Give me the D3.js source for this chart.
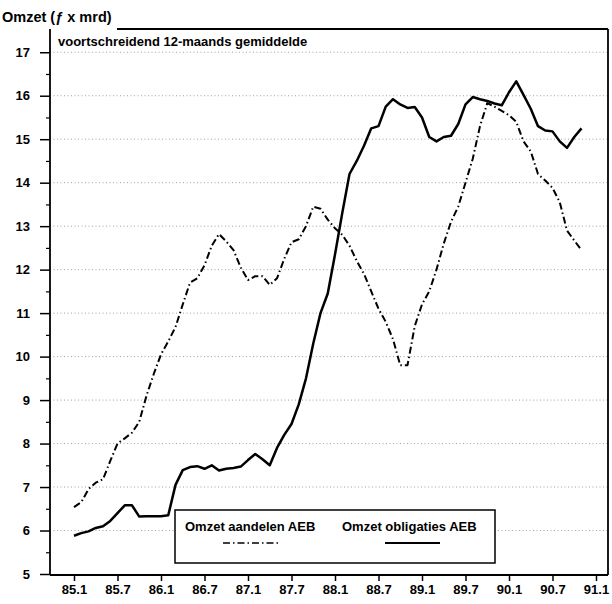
<!DOCTYPE html>
<html>
<head>
<meta charset="utf-8">
<script src="https://cdn.jsdelivr.net/npm/d3@7"></script>
<style>
  html, body { margin: 0; padding: 0; background: #fff; }
  svg { display: block; }
  text { font-family: "Liberation Sans", Arial, Helvetica, sans-serif; font-weight: bold; fill: #000; }
</style>
</head>
<body>
<svg id="chart" width="612" height="604"></svg>
<script>
// Month index 0 = januari 1985 (85.1)
const tickLabels = ["85.1","85.7","86.1","86.7","87.1","87.7","88.1","88.7","89.1","89.7","90.1","90.7","91.1"];
const yTicks = [5,6,7,8,9,10,11,12,13,14,15,16,17];

// Omzet aandelen AEB (f x mrd), voortschrijdend 12-maands gemiddelde, jan 1985 .. nov 1990
const aandelen = [
  6.54, 6.65, 6.95, 7.10, 7.18, 7.60, 8.00, 8.12, 8.25, 8.50,
  9.10, 9.60, 10.05, 10.35, 10.68, 11.20, 11.70, 11.80, 12.10, 12.55,
  12.82, 12.65, 12.45, 12.05, 11.76, 11.85, 11.85, 11.65, 11.80, 12.25,
  12.63, 12.70, 13.00, 13.45, 13.40, 13.15, 12.95, 12.80, 12.55, 12.20,
  11.90, 11.50, 11.10, 10.80, 10.40, 9.80, 9.80, 10.70, 11.20, 11.50,
  12.00, 12.60, 13.10, 13.45, 14.00, 14.55, 15.30, 15.83, 15.75, 15.65,
  15.55, 15.40, 14.95, 14.72, 14.20, 14.05, 13.88, 13.55, 12.90, 12.67,
  12.45
];
// Omzet obligaties AEB
const obligaties = [
  5.88, 5.94, 5.98, 6.06, 6.10, 6.22, 6.40, 6.58, 6.58, 6.32,
  6.33, 6.33, 6.33, 6.35, 7.05, 7.39, 7.46, 7.48, 7.42, 7.50,
  7.38, 7.42, 7.44, 7.47, 7.62, 7.76, 7.64, 7.50, 7.90, 8.20,
  8.45, 8.90, 9.50, 10.30, 11.00, 11.45, 12.35, 13.30, 14.20, 14.50,
  14.85, 15.25, 15.30, 15.75, 15.92, 15.80, 15.72, 15.74, 15.50, 15.05,
  14.95, 15.05, 15.08, 15.35, 15.80, 15.97, 15.92, 15.88, 15.82, 15.78,
  16.08, 16.33, 16.02, 15.70, 15.30, 15.20, 15.18, 14.95, 14.80, 15.05,
  15.25
];
const seriesNames = ["Omzet aandelen AEB", "Omzet obligaties AEB"];

const svg = d3.select("#chart");
const L = 50, R = 608, T = 29, B = 575;

const x = d3.scaleLinear().domain([0, 72]).range([74, 596]);
const y = d3.scaleLinear().domain([5, 17.5]).range([574, 30.5]);

// gridlines
svg.append("g").selectAll("line")
  .data(yTicks.filter(v => v > 5))
  .join("line")
  .attr("x1", L).attr("x2", R)
  .attr("y1", d => y(d)).attr("y2", d => y(d))
  .attr("stroke", "#8a8a8a").attr("stroke-width", 0.8)
  .attr("stroke-dasharray", "1,2.5");

// lines
const line = d3.line().x((d, i) => x(i)).y(d => y(d)).curve(d3.curveLinear);
svg.append("path").datum(aandelen)
  .attr("d", line).attr("fill", "none").attr("stroke", "#000")
  .attr("stroke-width", 2).attr("stroke-dasharray", "7,3,1.5,3")
  .attr("stroke-linejoin", "round");
svg.append("path").datum(obligaties)
  .attr("d", line).attr("fill", "none").attr("stroke", "#000")
  .attr("stroke-width", 2.5).attr("stroke-linejoin", "round");

// y axis
const yAxis = d3.axisLeft(y).tickValues(yTicks).tickSize(10).tickPadding(10).tickFormat(d3.format("d"));
const gy = svg.append("g").attr("transform", `translate(${L},0)`).call(yAxis);
gy.select(".domain").remove();
gy.selectAll("line").attr("stroke-width", 1.5);
gy.selectAll("text").style("font-size", "13px");
const yMinor = d3.axisLeft(y).tickValues(yTicks.slice(0, -1).map(v => v + 0.5)).tickSize(4).tickFormat("");
const gym = svg.append("g").attr("transform", `translate(${L},0)`).call(yMinor);
gym.select(".domain").remove();
gym.selectAll("line").attr("stroke-width", 1.2);

// x axis
const xAxis = d3.axisBottom(x).tickValues(d3.range(0, 73, 6)).tickSize(6).tickPadding(4)
  .tickFormat((d, i) => tickLabels[i]);
const gx = svg.append("g").attr("transform", `translate(0,${B})`).call(xAxis);
gx.select(".domain").remove();
gx.selectAll("line").attr("stroke-width", 1.5);
gx.selectAll("text").style("font-size", "13px");

// frame
const frame = svg.append("g").attr("stroke", "#000").attr("stroke-width", 1.8);
frame.append("line").attr("x1", L).attr("x2", L).attr("y1", T).attr("y2", B);
frame.append("line").attr("x1", L).attr("x2", R).attr("y1", B).attr("y2", B);
frame.append("line").attr("x1", R).attr("x2", R).attr("y1", T).attr("y2", B);
frame.append("line").attr("x1", 117).attr("x2", R).attr("y1", T).attr("y2", T);

// titles
svg.append("text").attr("x", 2).attr("y", 22).style("font-size", "14.5px").text("Omzet (ƒ x mrd)");
svg.append("text").attr("x", 58).attr("y", 46).style("font-size", "13px").text("voortschreidend 12-maands gemiddelde");

// legend
const lg = svg.append("g");
lg.append("rect").attr("x", 175).attr("y", 510).attr("width", 320).attr("height", 53)
  .attr("fill", "#fff").attr("stroke", "#000").attr("stroke-width", 1.5);
lg.append("text").attr("x", 185).attr("y", 531).style("font-size", "13px").text(seriesNames[0]);
lg.append("text").attr("x", 342).attr("y", 531).style("font-size", "13px").text(seriesNames[1]);
lg.append("line").attr("x1", 223).attr("x2", 280).attr("y1", 543).attr("y2", 543)
  .attr("stroke", "#000").attr("stroke-width", 1.5).attr("stroke-dasharray", "7,3,1.5,3");
lg.append("line").attr("x1", 385).attr("x2", 440).attr("y1", 543).attr("y2", 543)
  .attr("stroke", "#000").attr("stroke-width", 2);
</script>
</body>
</html>
